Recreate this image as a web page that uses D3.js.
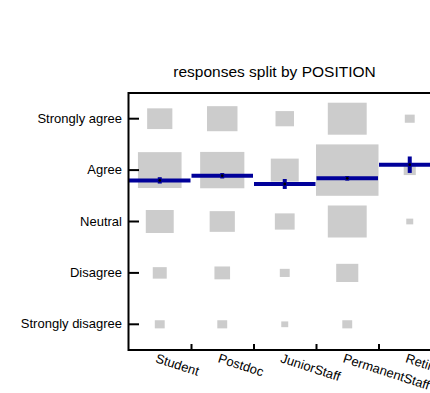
<!DOCTYPE html>
<html>
<head>
<meta charset="utf-8">
<script src="https://cdn.jsdelivr.net/npm/d3@7"></script>
<style>
  html, body { margin: 0; padding: 0; background: #ffffff; }
  svg { display: block; }
  text { font-family: "Liberation Sans", Arial, Helvetica, sans-serif; fill: #000; }
</style>
</head>
<body>
<svg id="chart" width="430" height="393"></svg>
<script>
// ---- data ----
const positions = ["Student", "Postdoc", "JuniorStaff", "PermanentStaff", "Retired"];
const responses = ["Strongly agree", "Agree", "Neutral", "Disagree", "Strongly disagree"];
const responseScores = [5, 4, 3, 2, 1];
// counts per position, in the order of `responses`
const countsStudent        = [13, 39, 16, 4, 2];
const countsPostdoc        = [19, 40, 13, 5, 2];
const countsJuniorStaff    = [7, 16, 8, 2, 1];
const countsPermanentStaff = [31, 80, 31, 10, 2];
const countsRetired        = [2, 3, 1, 0, 0];
// mean score and its error per position
const meanScores = [3.80, 3.89, 3.73, 3.84, 4.105];
const meanErrors = [0.062, 0.053, 0.097, 0.045, 0.16];
const titleText = "responses split by POSITION";

const countsByPosition = [countsStudent, countsPostdoc, countsJuniorStaff, countsPermanentStaff, countsRetired];

(function () {
  // ---- layout ----
  const plotLeft = 128.5, plotTop = 93, plotBottom = 350, step = 62.5;
  const plotRight = plotLeft + step * positions.length;

  const svg = d3.select("#chart");

  const x = d3.scaleBand().domain(positions).range([plotLeft, plotRight]).padding(0);
  const y = d3.scaleBand().domain(responses).range([plotTop, plotBottom]).padding(0);
  const yVal = d3.scaleLinear()
    .domain([responseScores[0], responseScores[responseScores.length - 1]])
    .range([y(responses[0]) + y.bandwidth() / 2, y(responses[responses.length - 1]) + y.bandwidth() / 2]);

  const maxCount = d3.max(countsByPosition.flat());
  const frac = d3.scaleSqrt().domain([0, maxCount]).range([0, 1]);

  // ---- grey boxes ----
  const cells = [];
  positions.forEach((p, i) => {
    responses.forEach((r, j) => {
      cells.push({ p, r, n: countsByPosition[i][j] });
    });
  });
  svg.append("g").selectAll("rect")
    .data(cells.filter(d => d.n > 0))
    .join("rect")
    .attr("x", d => x(d.p) + x.bandwidth() / 2 - frac(d.n) * x.bandwidth() / 2)
    .attr("y", d => y(d.r) + y.bandwidth() / 2 - frac(d.n) * y.bandwidth() / 2)
    .attr("width", d => frac(d.n) * x.bandwidth())
    .attr("height", d => frac(d.n) * y.bandwidth())
    .attr("fill", "#cccccc");

  // ---- mean lines ----
  const means = positions.map((p, i) => ({ p, m: meanScores[i], e: meanErrors[i] }));
  const blue = "#00009a";
  svg.append("g").selectAll("line")
    .data(means)
    .join("line")
    .attr("x1", d => x(d.p) + 0.5)
    .attr("x2", d => x(d.p) + x.bandwidth() - 0.5)
    .attr("y1", d => yVal(d.m))
    .attr("y2", d => yVal(d.m))
    .attr("stroke", blue)
    .attr("stroke-width", 4);

  svg.append("g").selectAll("line")
    .data(means)
    .join("line")
    .attr("x1", d => x(d.p) + x.bandwidth() / 2)
    .attr("x2", d => x(d.p) + x.bandwidth() / 2)
    .attr("y1", d => yVal(d.m + d.e))
    .attr("y2", d => yVal(d.m - d.e))
    .attr("stroke", blue)
    .attr("stroke-width", 4);

  svg.append("g").selectAll("circle")
    .data(means)
    .join("circle")
    .attr("cx", d => x(d.p) + x.bandwidth() / 2)
    .attr("cy", d => yVal(d.m))
    .attr("r", 1.4)
    .attr("fill", "#000");

  // ---- frame ----
  svg.append("path")
    .attr("d", `M${plotRight},${plotTop}H${plotLeft}V${plotBottom}H${plotRight}`)
    .attr("fill", "none")
    .attr("stroke", "#000")
    .attr("stroke-width", 2);

  // ---- y axis (inward ticks) ----
  const yAxis = svg.append("g")
    .attr("transform", `translate(${plotLeft},0)`)
    .call(d3.axisLeft(y).tickSizeInner(-10.5).tickSizeOuter(0).tickPadding(6.5));
  yAxis.select(".domain").remove();
  yAxis.selectAll(".tick line").attr("stroke", "#000").attr("stroke-width", 2);
  yAxis.selectAll(".tick text")
    .style("font-size", "13px")
    .style("font-family", "'Liberation Sans', Arial, Helvetica, sans-serif")
    .attr("fill", "#000");

  // ---- x axis (inward ticks at category boundaries) ----
  const boundaries = positions.slice(1).map(p => x(p));
  const xAxis = svg.append("g").attr("transform", `translate(0,${plotBottom})`);
  xAxis.call(d3.axisBottom(d3.scaleLinear().domain([plotLeft, plotRight]).range([plotLeft, plotRight]))
      .tickValues(boundaries).tickSizeInner(-6).tickSizeOuter(0).tickFormat(""));
  xAxis.select(".domain").remove();
  xAxis.selectAll(".tick line").attr("stroke", "#000").attr("stroke-width", 2);

  svg.append("g").selectAll("text")
    .data(positions)
    .join("text")
    .attr("transform", d => `translate(${x(d) + x.bandwidth() / 2 - 5},${plotBottom + 12}) rotate(18)`)
    .attr("text-anchor", "start")
    .style("font-size", "13px")
    .text(d => d);

  // ---- title ----
  svg.append("text")
    .attr("x", 274.5)
    .attr("y", 77)
    .attr("text-anchor", "middle")
    .style("font-size", "15.5px")
    .text(titleText);
})();
</script>
</body>
</html>
